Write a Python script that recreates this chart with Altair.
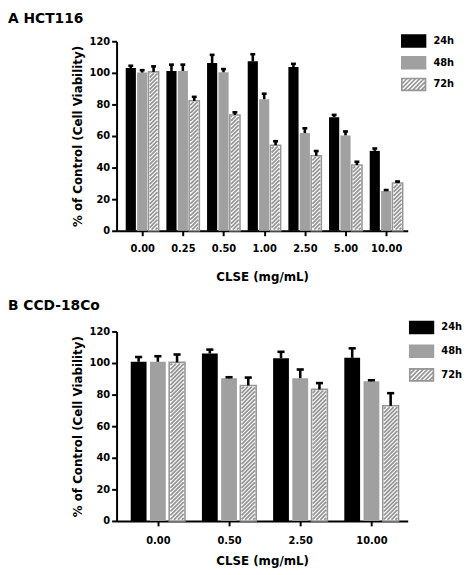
import altair as alt
import pandas as pd

series = ["24h", "48h", "72h"]
fill_colors = ["#000000", "#a0a0a0", "#ffffff"]
stroke_colors = ["#000000", "#a0a0a0", "#969696"]

conc_a = ["0.00", "0.25", "0.50", "1.00", "2.50", "5.00", "10.00"]
a_24 = [103.0, 101.2, 106.2, 107.3, 103.7, 71.9, 50.6]
a_24_err = [1.5, 4.0, 5.2, 4.5, 2.0, 1.5, 1.5]
a_48 = [100.2, 101.2, 100.4, 83.3, 61.9, 60.4, 25.2]
a_48_err = [1.5, 4.0, 2.0, 3.5, 3.0, 2.5, 0.6]
a_72 = [100.6, 82.3, 73.3, 54.2, 47.5, 41.7, 30.2]
a_72_err = [3.5, 2.5, 1.7, 2.5, 3.0, 2.0, 1.0]

conc_b = ["0.00", "0.50", "2.50", "10.00"]
b_24 = [100.8, 106.0, 103.1, 103.3]
b_24_err = [3.0, 2.5, 4.0, 6.0]
b_48 = [100.8, 90.4, 90.4, 88.5]
b_48_err = [3.5, 0.6, 5.5, 0.6]
b_72 = [100.4, 85.8, 83.3, 72.9]
b_72_err = [5.0, 5.0, 4.0, 8.0]

y_ticks = [0, 20, 40, 60, 80, 100, 120]

W, H = 295, 192
Y_MAX = 120
FONT = "DejaVu Sans"


def rect_path():
    return "M-1,-0.5H1V0.5H-1Z"


def hatch_path():
    parts = [rect_path()]
    c = -1.9
    while c < 1.0:
        x0, y0 = c, 0.5
        x1, y1 = c + 1.0, -0.5
        if x0 < -1:
            y0 = 0.5 - (-1 - x0)
            x0 = -1
        if x1 > 1:
            y1 = -0.5 + (x1 - 1)
            x1 = 1
        if x1 > x0:
            parts.append(f"M{x0:.3f},{y0:.3f}L{x1:.3f},{y1:.3f}")
        c += 0.36
    return "".join(parts)


def stripes(vals, off, bw, pxx, pxy, p=4.0, ins=1.2):
    rows = []
    for i, v in enumerate(vals):
        xc = i + off
        w = bw * pxx - 2 * ins
        h = v * pxy - 2 * ins
        c = -w + p / 2
        while c < h:
            X0 = max(0.0, -c)
            X1 = min(w, h - c)
            if X1 > X0:
                rows.append(dict(
                    sx=xc - bw / 2 + (ins + X0) / pxx,
                    sx2=xc - bw / 2 + (ins + X1) / pxx,
                    sy=(ins + X0 + c) / pxy,
                    sy2=(ins + X1 + c) / pxy,
                ))
            c += p
    return pd.DataFrame(rows)


def panel(title, concs, v24, e24, v48, e48, v72, e72, xdom, off, bw, capw,
          leg_x, leg_y, leg_h, x_label_pad, x_title_pad, title_off):
    rows = []
    for sidx, (s, vals, errs) in enumerate(zip(series, [v24, v48, v72], [e24, e48, e72])):
        for i, (v, e) in enumerate(zip(vals, errs)):
            rows.append(dict(conc=concs[i], idx=i, series=s, sidx=sidx, value=v, err=e))
    df = pd.DataFrame(rows)

    pxx = W / (xdom[1] - xdom[0])
    pxy = H / Y_MAX

    base = alt.Chart(df).transform_calculate(
        xc=f"datum.idx + (datum.sidx - 1) * {off}"
    ).transform_calculate(
        xl=f"datum.xc - {bw / 2}",
        xr=f"datum.xc + {bw / 2}",
        top="datum.value + datum.err",
        cl=f"datum.xc - {capw}",
        cr=f"datum.xc + {capw}",
        zero="0",
    )

    xscale = alt.Scale(domain=xdom, nice=False, zero=False)
    yscale = alt.Scale(domain=[0, Y_MAX], nice=False)
    labels_js = "[" + ",".join(f"'{c}'" for c in concs) + "]"
    xtitle = "CLSE (mg/mL)"
    ytitle = "% of Control (Cell Viability)"
    xaxis = alt.Axis(
        values=list(range(len(concs))),
        labelExpr=f"{labels_js}[datum.value]",
        title=xtitle, grid=False, labelPadding=x_label_pad, titlePadding=x_title_pad,
        labelOverlap=False,
    )
    yaxis = alt.Axis(
        values=y_ticks, tickCount=len(y_ticks), title=ytitle, grid=False,
        labelPadding=2, titlePadding=5, labelOverlap=False,
    )

    def X(f):
        return alt.X(f, scale=xscale, axis=xaxis)

    def Y(f):
        return alt.Y(f, scale=yscale, axis=yaxis)

    fill_scale = alt.Scale(domain=series, range=fill_colors)
    stroke_scale = alt.Scale(domain=series, range=stroke_colors)
    shape_scale = alt.Scale(domain=series, range=[rect_path(), rect_path(), hatch_path()])

    leg = alt.Legend(
        orient="none", legendX=leg_x, legendY=leg_y, title=None,
        symbolSize=576, symbolStrokeWidth=1.7, labelFont=FONT,
        labelFontSize=10, labelFontWeight="bold", labelColor="black",
        labelOffset=7, clipHeight=leg_h, rowPadding=0, padding=0,
    )

    bars = base.mark_rect().encode(
        x=X("xl:Q"),
        x2="xr:Q",
        y=Y("value:Q"),
        y2="zero:Q",
        fill=alt.Fill("series:N", scale=fill_scale, legend=leg),
        stroke=alt.Stroke("series:N", scale=stroke_scale, legend=leg),
        strokeWidth=alt.condition("datum.series == '72h'", alt.value(1.6), alt.value(0)),
    )

    sdf = stripes(v72, off, bw, pxx, pxy)
    hatch = alt.Chart(sdf).mark_rule(color="#969696", strokeWidth=1.8).encode(
        x=X("sx:Q"),
        x2="sx2:Q",
        y=Y("sy:Q"),
        y2="sy2:Q",
    )

    err_line = base.mark_rule(color="black", strokeWidth=2.6).encode(
        x=X("xc:Q"),
        y=Y("value:Q"),
        y2="top:Q",
    )
    err_cap = base.mark_rule(color="black", strokeWidth=2.6).encode(
        x=X("cl:Q"),
        x2="cr:Q",
        y=Y("top:Q"),
    )

    legend_layer = base.mark_point(opacity=1, filled=True).encode(
        x=X("xc:Q"),
        y=Y("value:Q"),
        fill=alt.Fill("series:N", scale=fill_scale, legend=leg),
        stroke=alt.Stroke("series:N", scale=stroke_scale, legend=leg),
        shape=alt.Shape("series:N", scale=shape_scale, legend=leg),
    ).transform_filter("false")

    return alt.layer(bars, hatch, err_line, err_cap, legend_layer).properties(
        width=W, height=H,
        title=alt.TitleParams(
            title, anchor="start", frame="group", dx=-110, font=FONT,
            fontSize=14, fontWeight="bold", color="black", offset=title_off,
        ),
    )


pa = panel("A  HCT116", conc_a, a_24, a_24_err, a_48, a_48_err, a_72, a_72_err,
           [-0.63, 6.53], 0.28, 0.25, 0.06, 288, -11, 21.5, 8, 18, 5)
pb = panel("B  CCD-18Co", conc_b, b_24, b_24_err, b_48, b_48_err, b_72, b_72_err,
           [-0.58, 3.51], 0.27, 0.222, 0.05, 296, -16, 24, 10, 10, 3)

chart = alt.vconcat(pa, pb, spacing=17).resolve_scale(
    x="independent", fill="independent", stroke="independent", shape="independent"
).resolve_legend(
    fill="independent", stroke="independent", shape="independent"
).properties(
    padding={"left": 0, "top": 0, "right": 0, "bottom": 0}
).configure_view(stroke=None).configure_axis(
    domainColor="black", domainWidth=2, tickColor="black", tickWidth=2, tickSize=5,
    labelFont=FONT, labelFontWeight="bold", labelFontSize=10, labelColor="black",
    titleFont=FONT, titleFontWeight="bold", titleFontSize=12, titleColor="black",
)

chart.save("out.html", embed_options={"renderer": "svg", "actions": False})
